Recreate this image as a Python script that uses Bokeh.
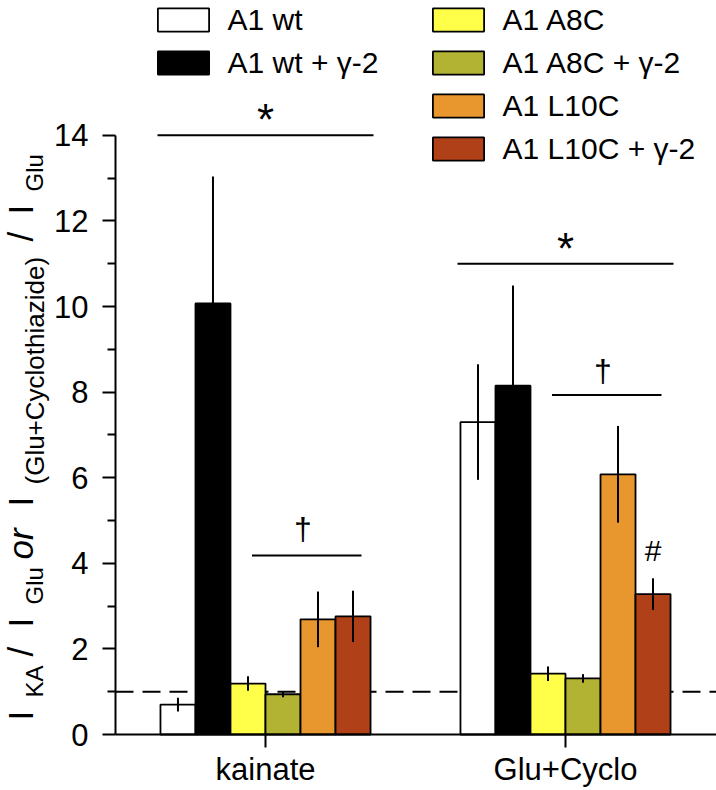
import numpy as np
from bokeh.plotting import figure
from bokeh.models import Range1d, FixedTicker, Legend, LegendItem
from bokeh.core.properties import value
from bokeh.embed import file_html
from bokeh.resources import INLINE

# ---------------- data ----------------
conditions = ["kainate", "Glu+Cyclo"]
series_names = ["A1 wt", "A1 wt + \u03b3-2", "A1 A8C", "A1 A8C + \u03b3-2",
                "A1 L10C", "A1 L10C + \u03b3-2"]
series_colors = ["#FFFFFF", "#000000", "#FFFF4A", "#B3B333", "#E8972E", "#B04018"]

wt_mean = [0.70, 7.30]
wt_sem = [0.16, 1.35]
wt_g2_mean = [10.07, 8.15]
wt_g2_sem = [2.97, 2.34]
a8c_mean = [1.19, 1.42]
a8c_sem = [0.17, 0.17]
a8c_g2_mean = [0.94, 1.31]
a8c_g2_sem = [0.07, 0.10]
l10c_mean = [2.69, 6.08]
l10c_sem = [0.65, 1.13]
l10c_g2_mean = [2.76, 3.28]
l10c_g2_sem = [0.60, 0.37]

y_ticks = [0, 2, 4, 6, 8, 10, 12, 14]
y_minor_ticks = [1, 3, 5, 7, 9, 11, 13]
reference_ratio = 1.0

# significance annotations (one entry per condition)
star_line_y = [14.0, 11.0]
star_mark_y = [14.36, 11.36]
dagger_line_y = [4.18, 7.93]
dagger_mark_y = [4.80, 8.50]
hash_mark_y = [4.29]

means = [wt_mean, wt_g2_mean, a8c_mean, a8c_g2_mean, l10c_mean, l10c_g2_mean]
sems = [wt_sem, wt_g2_sem, a8c_sem, a8c_g2_sem, l10c_sem, l10c_g2_sem]

# ---------------- layout ----------------
W, H = 716, 790
PX_X = 300.0          # px per x unit
PX_Y = 42.8           # px per y unit
ZERO_PX = 734         # canvas y of value 0
GROUP1_PX = 265       # canvas x of first group
group_pos = [1, 2]
bar_w = 0.1167

x_start = group_pos[0] - GROUP1_PX / PX_X
x_end = x_start + W / PX_X
y_start = -(H - ZERO_PX) / PX_Y
y_end = ZERO_PX / PX_Y

def dx(px):
    return x_start + px / PX_X

def dy(py):
    return (ZERO_PX - py) / PX_Y

axis_x = dx(115)
FONT = "Liberation Sans"

p = figure(width=W, height=H, x_range=Range1d(x_start, x_end), y_range=Range1d(y_start, y_end),
           output_backend="svg", toolbar_location=None, title=None,
           min_border_left=0, min_border_right=0, min_border_top=0, min_border_bottom=0)
p.outline_line_color = None
p.xgrid.visible = False
p.ygrid.visible = False
p.background_fill_color = "white"
p.border_fill_color = "white"

# y axis
ya = p.yaxis[0]
ya.fixed_location = axis_x
ya.ticker = FixedTicker(ticks=y_ticks, minor_ticks=y_minor_ticks)
ya.bounds = (0, 14)
ya.axis_line_width = 2
ya.major_tick_line_width = 2
ya.minor_tick_line_width = 2
ya.major_tick_out = 13
ya.major_tick_in = 0
ya.minor_tick_out = 8
ya.minor_tick_in = 0
ya.major_label_text_font = FONT
ya.major_label_text_font_size = "31px"
ya.major_label_text_color = "black"
ya.major_label_standoff = 14

# x axis
xa = p.xaxis[0]
xa.fixed_location = 0
xa.ticker = FixedTicker(ticks=group_pos, minor_ticks=[])
xa.bounds = (axis_x, x_end)
xa.major_label_overrides = {g: c for g, c in zip(group_pos, conditions)}
xa.axis_line_width = 2
xa.major_tick_line_width = 2
xa.major_tick_out = 13
xa.major_tick_in = 0
xa.minor_tick_line_color = None
xa.major_label_text_font = FONT
xa.major_label_text_font_size = "31px"
xa.major_label_text_color = "black"
xa.major_label_standoff = 4

# reference line at ratio 1 (drawn first, bars cover it)
p.segment(x0=[axis_x], y0=[reference_ratio], x1=[x_end], y1=[reference_ratio],
          line_color="black", line_width=2, line_dash="18 9")

# bars
renderers = []
xs_all = []
for i, (name, color, m) in enumerate(zip(series_names, series_colors, means)):
    off = (i - 2.5) * bar_w
    xs = [g + off for g in group_pos]
    xs_all.append(xs)
    r = p.vbar(x=xs, top=m, bottom=0, width=bar_w, fill_color=color,
               line_color="black", line_width=1.8)
    renderers.append(r)

# error bars
for xs, m, s in zip(xs_all, means, sems):
    p.segment(x0=xs, y0=[a - b for a, b in zip(m, s)], x1=xs,
              y1=[a + b for a, b in zip(m, s)], line_color="black", line_width=2)

# significance lines and marks
p.segment(x0=[g - 0.36 for g in group_pos], y0=star_line_y,
          x1=[g + 0.36 for g in group_pos], y1=star_line_y,
          line_color="black", line_width=2)
p.segment(x0=[g - 0.045 for g in group_pos], y0=dagger_line_y,
          x1=[g + 0.32 for g in group_pos], y1=dagger_line_y,
          line_color="black", line_width=2)

p.text(x=group_pos, y=star_mark_y, text=["*", "*"],
       text_font=value(FONT), text_font_size="44px", text_align="center",
       text_baseline="middle", text_color="black")
p.text(x=[g + 0.125 for g in group_pos], y=dagger_mark_y,
       text=["\u2020", "\u2020"], text_font=value(FONT), text_font_size="32px",
       text_align="center", text_baseline="middle", text_color="black")
p.text(x=[xs_all[5][1]], y=hash_mark_y, text=["#"],
       text_font=value(FONT), text_font_size="30px", text_align="center",
       text_baseline="middle", text_color="black")

# legends
items = [LegendItem(label=n, renderers=[r]) for n, r in zip(series_names, renderers)]
ITEM_H = 36
SPACING = 7
LEG_TOP = 1.5
def make_legend(its, swatch_left_px):
    n = len(its)
    h = n * ITEM_H + (n - 1) * SPACING
    return Legend(items=its, location=(swatch_left_px - 6.4, H - LEG_TOP - h),
                  orientation="vertical", glyph_width=64, glyph_height=29,
                  label_standoff=13, spacing=SPACING, padding=0, margin=0,
                  border_line_color=None, background_fill_alpha=0,
                  label_text_font=FONT, label_text_font_size="30px",
                  label_text_color="black", label_height=ITEM_H)
p.add_layout(make_legend(items[:2], 157), "center")
p.add_layout(make_legend(items[2:], 432), "center")

# y axis label built from pieces (rotated, reading bottom to top)
pieces = [
    ("I", 35, "normal", 32, 720),
    ("KA", 24, "normal", 42, 697),
    ("/", 35, "normal", 32, 656),
    ("I", 35, "normal", 32, 627),
    ("Glu", 24, "normal", 42, 604),
    ("or", 35, "italic", 32, 559),
    ("I", 35, "normal", 32, 506),
    ("(Glu+Cyclothiazide)", 26, "normal", 44, 484),
    ("/", 35, "normal", 32, 241),
    ("I", 35, "normal", 32, 214),
    ("Glu", 24, "normal", 42, 191),
]
for t, fs, st, bx, sy in pieces:
    p.text(x=[dx(bx - 0.3465 * fs)], y=[dy(sy)], text=[t], angle=np.pi / 2,
           text_align="left", text_baseline="middle",
           text_font=value(FONT), text_font_size=f"{fs}px", text_font_style=st,
           text_color="black")

open("out.html", "w").write(file_html(p, INLINE))
